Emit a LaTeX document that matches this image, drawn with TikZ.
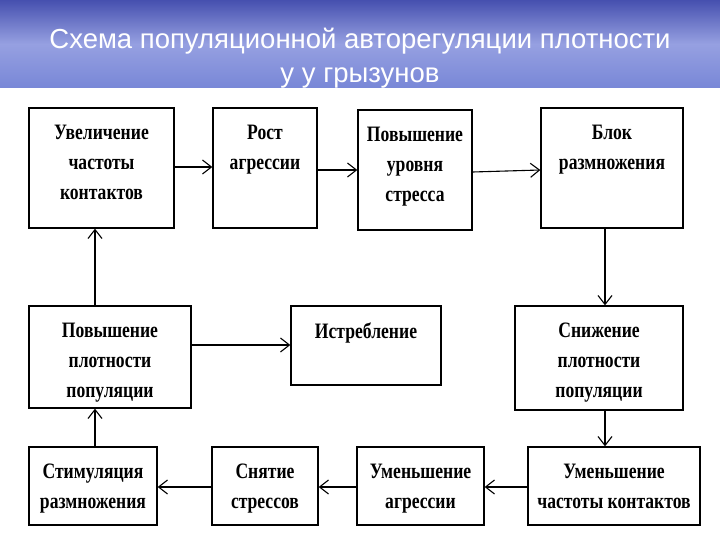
\documentclass[tikz,border=0pt]{standalone}
\usepackage{fontspec}
\setmainfont{Liberation Sans}
\newfontfamily\cond{Liberation Serif}[FakeStretch=0.8]
\begin{document}
\begin{tikzpicture}[x=1pt,y=-1pt,
 txt/.style={anchor=north,align=center,font=\cond\bfseries\fontsize{22}{30}\selectfont,inner sep=0pt},
 arr/.style={->,line width=1.1pt,>={Straight Barb[length=9pt,width=14pt,line width=1.1pt]}}]
\usetikzlibrary{arrows.meta}
\useasboundingbox (0,0) rectangle (720,540);
\shade[top color={rgb,255:red,70;green,80;blue,175},bottom color={rgb,255:red,120;green,135;blue,215},middle color={rgb,255:red,150;green,160;blue,225}] (0,0) rectangle (720,88);
\fill[white] (0,88) rectangle (720,540);
\node[white,font=\fontsize{27.5}{34}\selectfont,align=center] (title) at (360,58) {Схема популяционной авторегуляции плотности\\у у грызунов};
\newcommand{\bx}[6]{\node[draw,line width=1.3pt,minimum width=#4-#2,minimum height=#5-#3,inner sep=0pt] (#1) at ({(#2+#4)/2},{(#3+#5)/2}) {};
 \node[txt] (#1t) at ({(#2+#4)/2},{#3+17}) {#6};}
\bx{A}{29}{108}{174}{228}{Увеличение\\частоты\\контактов}
\bx{B}{213}{108}{317}{228}{Рост\\агрессии}
\bx{C}{358}{110}{472}{230}{Повышение\\уровня\\стресса}
\bx{D}{541}{108}{683}{228}{Блок\\размножения}
\bx{E}{29}{306}{191}{408}{Повышение\\плотности\\популяции}
\bx{F}{291}{306}{441}{385}{Истребление}
\bx{G}{515}{306}{683}{410}{Снижение\\плотности\\популяции}
\bx{H}{29}{447}{157}{525}{Стимуляция\\размножения}
\bx{I}{212}{447}{318}{525}{Снятие\\стрессов}
\bx{J}{357}{447}{484}{525}{Уменьшение\\агрессии}
\bx{K}{528}{447}{700}{525}{Уменьшение\\частоты контактов}
\draw[arr] (A.east|-0,167) -- (B.west|-0,167);
\draw[arr] (B.east|-0,170) -- (C.west|-0,170);
\draw[arr] (C.east|-0,172) -- (D.west|-0,170);
\draw[arr] (D.south-|605,0) -- (G.north-|605,0);
\draw[arr] (E.east|-0,345) -- (F.west|-0,345);
\draw[arr] (G.south-|605,0) -- (K.north-|605,0);
\draw[arr] (K.west|-0,487) -- (J.east|-0,487);
\draw[arr] (J.west|-0,487) -- (I.east|-0,487);
\draw[arr] (I.west|-0,487) -- (H.east|-0,487);
\draw[arr] (H.north-|95,0) -- (E.south-|95,0);
\draw[arr] (E.north-|95,0) -- (A.south-|95,0);
\end{tikzpicture}
\end{document}
